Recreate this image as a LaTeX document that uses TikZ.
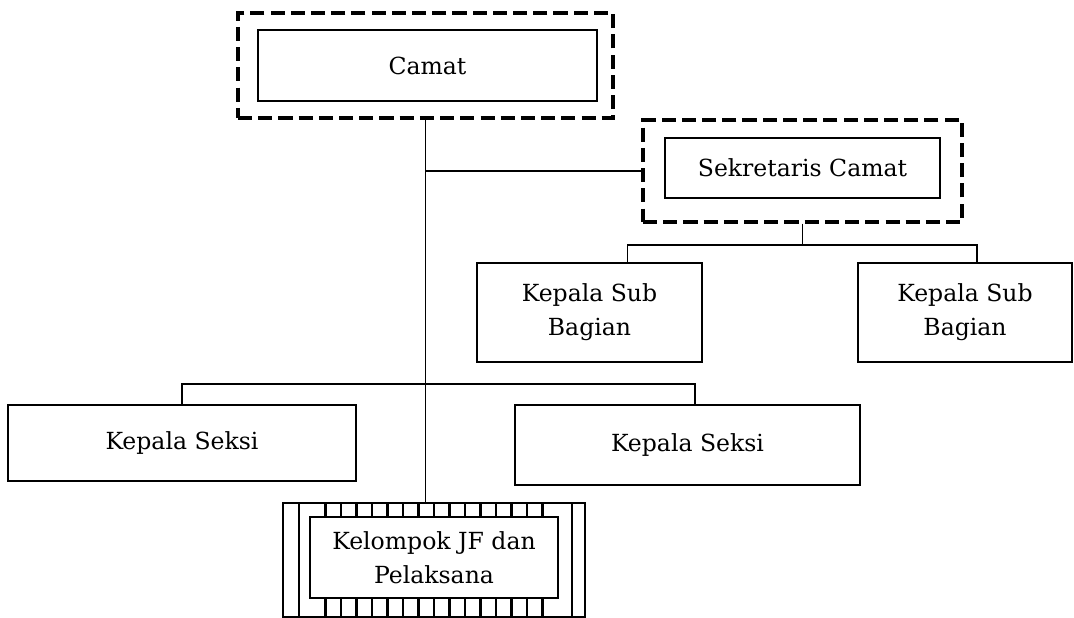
\documentclass[tikz,border=0pt]{standalone}
\usepackage{fontspec}
\setmainfont{DejaVu Serif}
\begin{document}
\begin{tikzpicture}[x=0.02cm, y=-0.02cm,
  font=\fontsize{13.4}{19.5}\selectfont,
  kotak/.style={draw, line width=1.3pt, align=center, inner sep=0pt},
  putus/.style={draw, line width=1.9pt, dash pattern=on 8pt off 3.5pt, inner sep=0pt},
  garis/.style={line width=0.9pt}]
  \useasboundingbox (0,0) rectangle (1074,618);
  % camat
  \node[putus, minimum width=7.5cm, minimum height=2.1cm] (camatO) at (425.5,65.5) {};
  \node[kotak, minimum width=6.78cm, minimum height=1.42cm] (camat) at (427.5,65.5) {Camat};
  % sekretaris
  \node[putus, minimum width=6.38cm, minimum height=2.04cm] (sekO) at (802.5,171) {};
  \node[kotak, minimum width=5.5cm, minimum height=1.2cm] (sek) at (802.5,168) {Sekretaris Camat};
  % kepala sub bagian
  \node[kotak, minimum width=4.5cm, minimum height=1.98cm] (ksb1) at (589.5,312.5) {Kepala Sub\\ Bagian};
  \node[kotak, minimum width=4.28cm, minimum height=1.98cm] (ksb2) at (965,312.5) {Kepala Sub\\ Bagian};
  % kepala seksi
  \node[kotak, minimum width=6.96cm, minimum height=1.52cm] (ks1) at (182,443) {Kepala Seksi};
  \node[kotak, minimum width=6.9cm, minimum height=1.6cm] (ks2) at (687.5,445) {Kepala Seksi};
  % kelompok JF
  \node[kotak, minimum width=6.04cm, minimum height=2.28cm] (kelO) at (434,560) {};
  \node[kotak, minimum width=4.96cm, minimum height=1.62cm] (kel) at (434,557.5) {Kelompok JF dan\\ Pelaksana};
  \foreach \i in {1,...,15} {
    \draw[line width=1.2pt] (310+\i*15.5,503) -- (310+\i*15.5,517);
    \draw[line width=1.2pt] (310+\i*15.5,598) -- (310+\i*15.5,617);
  }
  \draw[line width=1.2pt] (299,503) -- (299,617);
  \draw[line width=1.2pt] (572,503) -- (572,617);
  % garis
  \coordinate (sbus) at (sekO.south |- 0,245);
  \coordinate (kbus) at (camatO.south |- 0,384);
  \draw[garis] (camatO.south) -- (camatO.south |- kelO.north);
  \draw[garis] (camatO.south |- sekO.west) -- (sekO.west);
  \draw[garis] (sekO.south) -- (sbus);
  \draw[garis] ([xshift=0.76cm]ksb1.north) |- (sbus) -| ([xshift=0.24cm]ksb2.north);
  \draw[garis] (ks1.north) |- (kbus) -| ([xshift=0.15cm]ks2.north);
\end{tikzpicture}
\end{document}
